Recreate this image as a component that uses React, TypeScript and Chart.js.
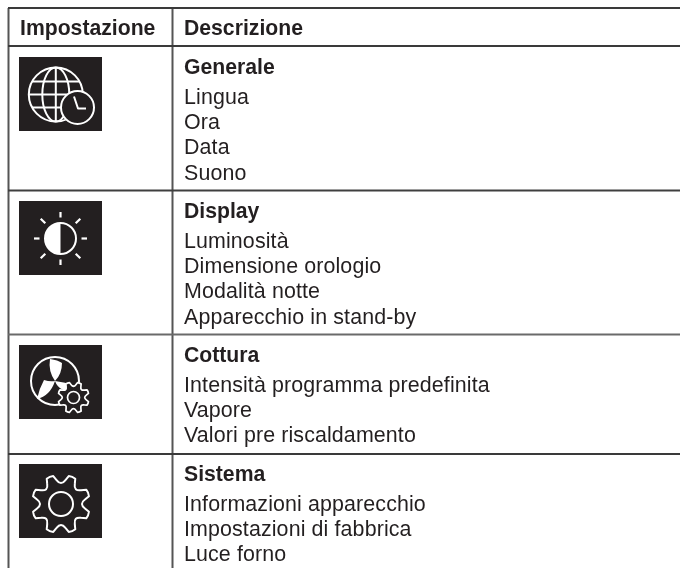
import React, { useEffect, useRef } from "react";
import { Chart, registerables } from "chart.js";

Chart.register(...registerables);

const headers = ["Impostazione", "Descrizione"];
const sectionTitles = ["Generale", "Display", "Cottura", "Sistema"];
const sectionItems = [
  ["Lingua", "Ora", "Data", "Suono"],
  ["Luminosità", "Dimensione orologio", "Modalità notte", "Apparecchio in stand-by"],
  ["Intensità programma predefinita", "Vapore", "Valori pre riscaldamento"],
  ["Informazioni apparecchio", "Impostazioni di fabbrica", "Luce forno"],
];
const iconNames = ["globe", "sun", "fan", "gear"];
const ruleRows = [8, 46, 190.5, 334.5, 454];
const ruleColors = ["#3a3a3a", "#3a3a3a", "#3f3f3f", "#6a6a6a", "#3a3a3a"];
const columnRules = [8.5, 172.5];
const titleBaselines = [74, 218, 362, 481];
const tileTops = [57, 201, 345, 464];

const INK = "#231f20";
const W = 680;
const H = 568;

function gearPath(ctx: CanvasRenderingContext2D, cx: number, cy: number, R: number) {
  ctx.beginPath();
  const d = Math.PI / 180;
  for (let k = 0; k < 8; k++) {
    const a = (-90 + 22.5 + k * 45) * d;
    const p = (r: number, t: number): [number, number] => [cx + r * Math.cos(a + t * d), cy + r * Math.sin(a + t * d)];
    const s0 = p(R * 0.84, -12);
    const t0 = p(R, -7);
    const t1 = p(R, 7);
    const s1 = p(R * 0.84, 12);
    const v = p(R * 0.62, 22.5);
    const s2 = p(R * 0.84, 33);
    if (k === 0) ctx.moveTo(s0[0], s0[1]);
    ctx.lineTo(t0[0], t0[1]);
    ctx.quadraticCurveTo(...p(R * 1.03, 0), t1[0], t1[1]);
    ctx.lineTo(s1[0], s1[1]);
    ctx.quadraticCurveTo(v[0], v[1], s2[0], s2[1]);
  }
  ctx.closePath();
}

function drawIcon(ctx: CanvasRenderingContext2D, name: string, x: number, y: number) {
  ctx.save();
  ctx.fillStyle = INK;
  ctx.fillRect(x, y, 83, 74);
  ctx.strokeStyle = "#ffffff";
  ctx.fillStyle = "#ffffff";
  ctx.lineWidth = 2;
  ctx.lineCap = "butt";
  ctx.lineJoin = "round";
  ctx.translate(x, y);
  if (name === "globe") {
    const cx = 36.8, cy = 37.5, r = 27;
    ctx.beginPath(); ctx.arc(cx, cy, r, 0, Math.PI * 2); ctx.stroke();
    ctx.beginPath(); ctx.ellipse(cx, cy, 13.5, r, 0, 0, Math.PI * 2); ctx.stroke();
    ctx.beginPath(); ctx.moveTo(cx, cy - r); ctx.lineTo(cx, cy + r); ctx.stroke();
    for (const dy of [-13, 0, 13]) {
      const hw = Math.sqrt(r * r - dy * dy);
      ctx.beginPath(); ctx.moveTo(cx - hw, cy + dy); ctx.lineTo(cx + hw, cy + dy); ctx.stroke();
    }
    ctx.beginPath(); ctx.arc(58.5, 50.5, 16.5, 0, Math.PI * 2);
    ctx.fillStyle = INK; ctx.fill(); ctx.stroke();
    ctx.beginPath(); ctx.moveTo(55, 39.5); ctx.lineTo(59, 51.5); ctx.lineTo(67, 51.5); ctx.stroke();
  } else if (name === "sun") {
    const cx = 41.5, cy = 37.5, r = 15.5;
    ctx.beginPath(); ctx.arc(cx, cy, r, 0, Math.PI * 2); ctx.stroke();
    ctx.beginPath(); ctx.arc(cx, cy, r, Math.PI / 2, Math.PI * 1.5); ctx.closePath(); ctx.fill();
    ctx.lineWidth = 2.2;
    for (let k = 0; k < 8; k++) {
      const a = (k * Math.PI) / 4;
      const r0 = k % 2 ? 21.5 : 21, r1 = k % 2 ? 28 : 26.5;
      ctx.beginPath();
      ctx.moveTo(cx + r0 * Math.cos(a), cy + r0 * Math.sin(a));
      ctx.lineTo(cx + r1 * Math.cos(a), cy + r1 * Math.sin(a));
      ctx.stroke();
    }
  } else if (name === "fan") {
    const cx = 36, cy = 36, r = 24;
    ctx.beginPath(); ctx.arc(cx, cy, r, 0, Math.PI * 2); ctx.stroke();
    ctx.beginPath();
    ctx.moveTo(cx, cy);
    ctx.quadraticCurveTo(cx - 7, cy - 10, cx - 5, cy - 22);
    ctx.quadraticCurveTo(cx + 3, cy - 21, cx + 7, cy - 18);
    ctx.quadraticCurveTo(cx + 7, cy - 7, cx, cy);
    ctx.moveTo(cx, cy);
    ctx.quadraticCurveTo(cx - 5, cy + 1, cx - 11, cy - 1);
    ctx.quadraticCurveTo(cx - 16, cy + 8, cx - 18, cy + 18);
    ctx.quadraticCurveTo(cx - 5, cy + 15, cx, cy);
    ctx.moveTo(cx, cy);
    ctx.quadraticCurveTo(cx + 10, cy + 1, cx + 20, cy + 5);
    ctx.quadraticCurveTo(cx + 12, cy + 11, cx + 8, cy + 9);
    ctx.quadraticCurveTo(cx + 2, cy + 6, cx, cy);
    ctx.fill();
    gearPath(ctx, 54.5, 52.5, 15.5);
    ctx.fillStyle = INK; ctx.fill(); ctx.lineWidth = 1.7; ctx.stroke();
    ctx.beginPath(); ctx.arc(54.5, 52.5, 6, 0, Math.PI * 2); ctx.stroke();
  } else {
    gearPath(ctx, 42, 40, 29);
    ctx.stroke();
    ctx.beginPath(); ctx.arc(42, 40, 12, 0, Math.PI * 2); ctx.stroke();
  }
  ctx.restore();
}

const tablePlugin = {
  id: "tablePlugin",
  afterDatasetsDraw(chart: any) {
    const { ctx, scales } = chart;
    const px = (v: number) => scales.x.getPixelForValue(v);
    const py = (v: number) => scales.y.getPixelForValue(v);
    const bold = 'bold 21.2px "Liberation Sans"';
    const regular = '21.4px "Liberation Sans"';
    ctx.save();
    ctx.fillStyle = INK;
    ctx.textBaseline = "alphabetic";
    ctx.font = bold;
    ctx.fillText(headers[0], px(20), py(35));
    ctx.fillText(headers[1], px(184), py(35));
    sectionTitles.forEach((title, i) => {
      ctx.font = bold;
      ctx.letterSpacing = "0px";
      ctx.fillText(title, px(184), py(titleBaselines[i]));
      ctx.font = regular;
      ctx.letterSpacing = "0.12px";
      sectionItems[i].forEach((item, j) => {
        ctx.fillText(item, px(184), py(titleBaselines[i] + 29.5 + j * 25.4));
      });
      ctx.letterSpacing = "0px";
      drawIcon(ctx, iconNames[i], px(19), py(tileTops[i]));
    });
    ctx.restore();
  },
};

export default function App() {
  const ref = useRef<HTMLCanvasElement>(null);
  useEffect(() => {
    const datasets: any[] = [
      ...ruleRows.map((y, i) => ({
        data: [{ x: 8, y }, { x: W, y }],
        borderColor: ruleColors[i],
        borderWidth: 2,
        showLine: true,
        pointRadius: 0,
      })),
      ...columnRules.map((x) => ({
        data: [{ x, y: 8 }, { x, y: H }],
        borderColor: "#555555",
        borderWidth: 2,
        showLine: true,
        pointRadius: 0,
      })),
    ];
    const chart = new Chart(ref.current!, {
      type: "scatter",
      data: { datasets },
      options: {
        animation: false,
        responsive: false,
        layout: { padding: 0 },
        plugins: { legend: { display: false }, tooltip: { enabled: false }, title: { display: false } },
        scales: {
          x: { type: "linear", min: 0, max: W, display: false },
          y: { type: "linear", min: 0, max: H, reverse: true, display: false },
        },
      },
      plugins: [tablePlugin],
    } as any);
    return () => chart.destroy();
  }, []);
  return (
    <canvas
      ref={ref}
      width={W}
      height={H}
      style={{ position: "fixed", left: 0, top: 0, width: W, height: H, background: "#ffffff" }}
    />
  );
}
